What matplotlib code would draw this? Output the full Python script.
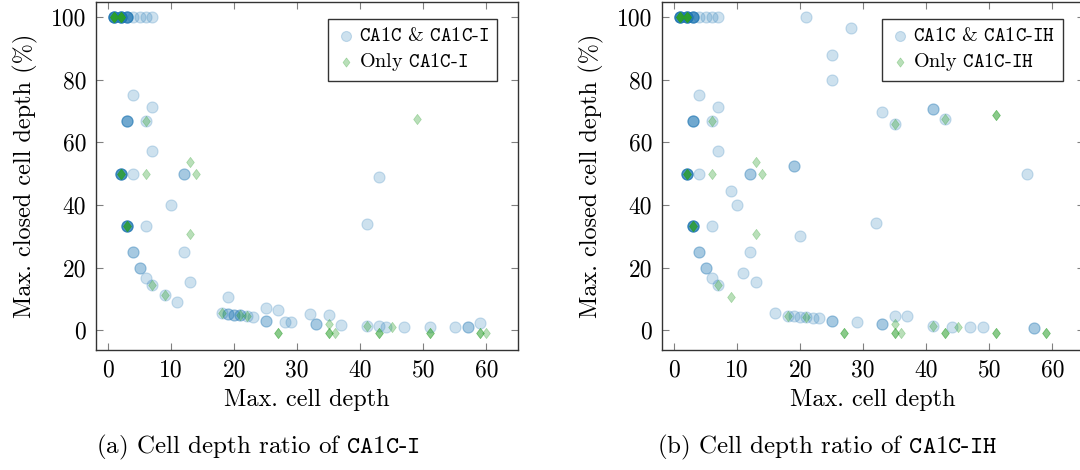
import numpy as np
import matplotlib
matplotlib.use("Agg")
import matplotlib.pyplot as plt

# Computer Modern look (cmr10 / cmtt10 ship with matplotlib)
plt.rcParams['font.family'] = ['cmr10', 'DejaVu Serif']
plt.rcParams['mathtext.fontset'] = 'cm'
plt.rcParams['axes.unicode_minus'] = False
plt.rcParams['axes.formatter.use_mathtext'] = False

# ---- data (x = max. cell depth, y = max. closed cell depth %, n = how many points overlap) ----
# (a) CA1C-I
a_both_x = [1, 2, 3, 4, 5, 6, 7, 4, 7, 3, 6, 7, 2, 4, 12, 10, 3, 6, 4, 12, 5, 6, 7, 13, 9, 11, 19,
            18, 19, 20, 21, 22, 23, 25, 25, 27, 28, 29, 32, 33, 35, 37, 41, 43, 41, 43, 44, 47, 51,
            55, 57, 59]
a_both_y = [100, 100, 100, 100, 100, 100, 100, 75, 71.4, 66.7, 66.7, 57.1, 50, 50, 50, 40, 33.3, 33.3,
            25, 25, 20, 16.7, 14.3, 15.4, 11.1, 9.1, 10.5,
            5.6, 5.3, 5.0, 4.8, 4.5, 4.3, 7.2, 3.0, 6.5, 2.5, 2.5, 5.3, 2.0, 4.8, 1.7, 34, 48.8, 1.4, 1.4,
            1.2, 1.1, 1.1, 0.9, 0.9, 2.3]
a_both_n = [8, 8, 6, 1, 1, 1, 1, 1, 1, 4, 1, 1, 6, 1, 2, 1, 6, 1, 2, 1, 2, 1, 1, 1, 1, 1, 1,
            1, 2, 2, 2, 1, 1, 1, 2, 1, 1, 1, 1, 2, 1, 1, 1, 1, 1, 1, 1, 1, 1, 1, 2, 1]

a_only_x = [1, 2, 6, 13, 2, 6, 14, 3, 13, 7, 9, 18, 21, 22, 27, 35, 35, 36, 41, 43, 45, 49, 51, 59, 60]
a_only_y = [100, 100, 66.7, 53.8, 50, 50, 50, 33.3, 30.8, 14.3, 11.1, 5.6, 4.8, 4.5, -1, 1.9, -1, -1,
            1.4, -1, 1.2, 67.3, -1, -1, -1]
a_only_n = [8, 8, 1, 1, 4, 1, 1, 4, 1, 1, 1, 1, 1, 1, 2, 1, 2, 1, 1, 2, 1, 1, 2, 2, 1]

# (b) CA1C-IH
b_both_x = [1, 2, 3, 4, 5, 6, 7, 21, 28, 25, 25, 4, 7, 33, 35, 41, 43, 3, 6, 7, 2, 4, 12, 19, 56,
            9, 10, 32, 3, 6, 20, 4, 12, 5, 11, 6, 7, 13, 16, 18, 19, 20, 21, 22, 23, 25, 29, 33,
            35, 37, 41, 44, 47, 49, 57]
b_both_y = [100, 100, 100, 100, 100, 100, 100, 100, 96.4, 88, 80, 75, 71.4, 69.7, 65.7, 70.7, 67.4,
            66.7, 66.7, 57.1, 50, 50, 50, 52.6, 50, 44.4, 40, 34.4, 33.3, 33.3, 30, 25, 25, 20, 18.2,
            16.7, 14.3, 15.4, 5.5, 4.6, 4.5, 4.3, 4.2, 4.0, 3.8, 3.0, 2.5, 2.1, 4.7, 4.5, 1.4, 1.1,
            1.1, 1.1, 0.8]
b_both_n = [8, 8, 6, 1, 1, 1, 1, 1, 1, 1, 1, 1, 1, 1, 1, 2, 1, 4, 1, 1, 6, 1, 2, 2, 1, 1, 1, 1,
            6, 1, 1, 2, 1, 2, 1, 1, 1, 1, 1, 1, 1, 1, 1, 1, 1, 2, 1, 2, 1, 1, 1, 1, 1, 1, 2]

b_only_x = [1, 2, 6, 35, 43, 51, 13, 2, 6, 14, 3, 13, 7, 9, 18, 21, 27, 35, 35, 36, 41, 43, 45, 51, 59]
b_only_y = [100, 100, 66.7, 65.7, 67.4, 68.6, 53.8, 50, 50, 50, 33.3, 30.8, 14.3, 10.5, 4.6, 4.2, -1,
            1.9, -1, -1, 1.4, -1, 1.1, -1, -1]
b_only_n = [8, 8, 1, 1, 1, 2, 1, 4, 1, 1, 4, 1, 1, 1, 1, 1, 2, 1, 2, 1, 1, 2, 1, 2, 2]

x_ticks = [0, 10, 20, 30, 40, 50, 60]
y_ticks = [0, 20, 40, 60, 80, 100]

BLUE = '#1f77b4'
GREEN = '#2ca02c'
FS = 17          # tick labels
FS_LAB = 17.5    # axis labels
FS_LEG = 14.5
FS_CAP = 18

DIAMOND = [(0, 1), (0.75, 0), (0, -1), (-0.75, 0), (0, 1)]


def tt(s):
    # typewriter words, the hyphen stays a plain text hyphen (mathtext would make it a minus)
    return '-'.join(r'$\mathtt{' + part + '}$' for part in s.split('-'))


def draw_panel(ax, bx, by, bn, ox, oy, on, name):
    ax.scatter(np.repeat(bx, bn), np.repeat(by, bn), s=64, marker='o', color=BLUE, alpha=0.22,
               linewidths=0.8, label=tt('CA1C') + ' & ' + tt(name), zorder=2)
    ax.scatter(np.repeat(ox, on), np.repeat(oy, on), s=55, marker=DIAMOND, color=GREEN, alpha=0.33,
               linewidths=0.5, label='Only ' + tt(name), zorder=3)
    ax.set_xlim(-1.9, 65)
    ax.set_ylim(-6.3, 104.8)
    ax.set_xticks(x_ticks)
    ax.set_yticks(y_ticks)
    ax.tick_params(direction='in', length=5, color='#808080', top=True, right=True,
                   labelsize=FS, pad=7)
    for sp in ax.spines.values():
        sp.set_color('#333333')
        sp.set_linewidth(1.0)
    ax.set_xlabel('Max. cell depth', fontsize=FS_LAB, labelpad=5)
    ax.set_ylabel('Max. closed cell depth (%)', fontsize=FS_LAB, labelpad=9)
    leg = ax.legend(loc='upper right', fontsize=FS_LEG, frameon=True, fancybox=False,
                    edgecolor='black', handletextpad=0.15, handlelength=1.0, borderpad=0.4,
                    labelspacing=0.3, bbox_to_anchor=(0.951, 0.951), borderaxespad=0,
                    markerscale=0.9)
    leg.get_frame().set_linewidth(1.0)


fig = plt.figure(figsize=(10.8, 4.7), dpi=100)
ax1 = fig.add_axes([96 / 1080, 1 - 350 / 470, 422 / 1080, 348 / 470])
ax2 = fig.add_axes([662 / 1080, 1 - 350 / 470, 422 / 1080, 348 / 470])

draw_panel(ax1, a_both_x, a_both_y, a_both_n, a_only_x, a_only_y, a_only_n, 'CA1C-I')
draw_panel(ax2, b_both_x, b_both_y, b_both_n, b_only_x, b_only_y, b_only_n, 'CA1C-IH')

fig.text(258 / 1080, 1 - 447 / 470, '(a) Cell depth ratio of ' + tt('CA1C-I'),
         ha='center', va='center', fontsize=FS_CAP)
fig.text(827 / 1080, 1 - 447 / 470, '(b) Cell depth ratio of ' + tt('CA1C-IH'),
         ha='center', va='center', fontsize=FS_CAP)

fig.savefig('out.png', dpi=100)
